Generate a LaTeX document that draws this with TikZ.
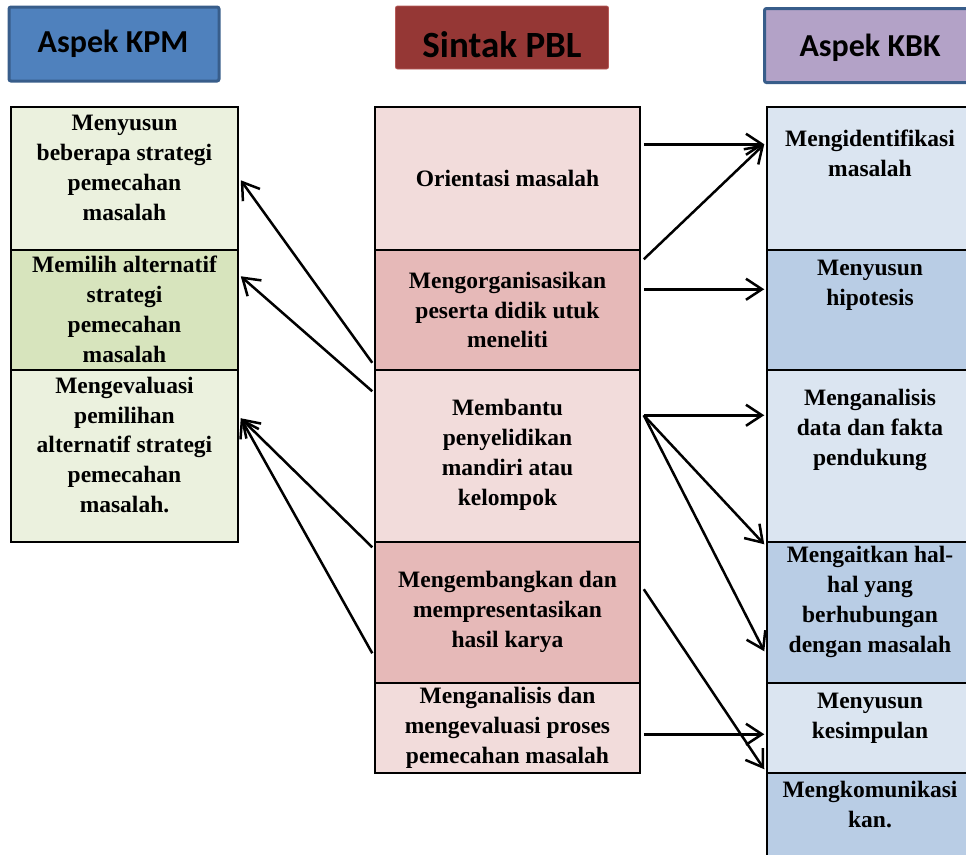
\documentclass[tikz,border=0pt]{standalone}
\usepackage{fontspec}
\setmainfont{Liberation Serif}
\newfontfamily\headfont{Carlito}
\usetikzlibrary{arrows.meta,calc}
\definecolor{kpmfill}{HTML}{4F81BD}
\definecolor{kpmdraw}{HTML}{385D8A}
\definecolor{pblfill}{HTML}{953735}
\definecolor{pbldraw}{HTML}{B65A58}
\definecolor{kbkfill}{HTML}{B3A2C7}
\definecolor{greenA}{HTML}{EBF1DE}
\definecolor{greenB}{HTML}{D7E4BD}
\definecolor{redA}{HTML}{F2DCDB}
\definecolor{redB}{HTML}{E6B9B8}
\definecolor{blueA}{HTML}{DBE5F1}
\definecolor{blueB}{HTML}{B9CDE5}
\begin{document}
\begin{tikzpicture}[x=1pt,y=-1pt,
  header/.style={rounded corners=2pt, line width=3pt, inner sep=0pt},
  headtext/.style={inner sep=0pt, font=\headfont\bfseries\fontsize{32}{34}\selectfont},
  cell/.style={draw=black, line width=1.5pt, inner sep=0pt},
  celltext/.style={align=center, inner sep=0pt,
    font=\bfseries\fontsize{23.5}{29.8}\selectfont},
  arr/.style={-{Straight Barb[length=16pt,width=21pt]}, line width=2.5pt}
]
\path[use as bounding box] (0,0) rectangle (966,854);
\clip (0,0) rectangle (966,854);

% headers
\node[header, draw=kpmdraw, fill=kpmfill, minimum width=210, minimum height=74] (hkpm) at (114,44) {};
\node[header, draw=pbldraw, fill=pblfill, line width=0.8pt, minimum width=213, minimum height=63] (hpbl) at (502,37.5) {};
\node[header, draw=kpmdraw, fill=kbkfill, minimum width=215, minimum height=74] (hkbk) at (872,45.5) {};
\node[headtext] (hkpmt) at (113,44) {Aspek KPM};
\node[headtext, font=\headfont\bfseries\fontsize{37}{40}\selectfont] (hpblt) at (502,45) {Sintak PBL};
\node[headtext] (hkbkt) at (870,48) {Aspek KBK};

% left column
\node[cell, fill=greenA, minimum width=227, minimum height=143] (l1) at (124.5,178.5) {};
\node[cell, fill=greenB, minimum width=227, minimum height=120] (l2) at (124.5,310) {};
\node[cell, fill=greenA, minimum width=227, minimum height=172] (l3) at (124.5,456) {};
\node[celltext] (l1t) at (124.5,168) {Menyusun\\beberapa strategi\\pemecahan\\masalah};
\node[celltext] (l2t) at (124.5,309.5) {Memilih alternatif\\strategi\\pemecahan\\masalah};
\node[celltext] (l3t) at (124.5,445) {Mengevaluasi\\pemilihan\\alternatif strategi\\pemecahan\\masalah.};

% center column
\node[cell, fill=redA, minimum width=265, minimum height=143] (c1) at (507.5,178.5) {};
\node[cell, fill=redB, minimum width=265, minimum height=120] (c2) at (507.5,310) {};
\node[cell, fill=redA, minimum width=265, minimum height=172] (c3) at (507.5,456) {};
\node[cell, fill=redB, minimum width=265, minimum height=141] (c4) at (507.5,612.5) {};
\node[cell, fill=redA, minimum width=265, minimum height=90] (c5) at (507.5,728) {};
\node[celltext] (c1t) at (507.5,178) {Orientasi masalah};
\node[celltext] (c2t) at (507.5,310) {Mengorganisasikan\\peserta didik utuk\\meneliti};
\node[celltext] (c3t) at (507.5,455) {Membantu\\penyelidikan\\mandiri atau\\kelompok};
\node[celltext] (c4t) at (507.5,612) {Mengembangkan dan\\mempresentasikan\\hasil karya};
\node[celltext] (c5t) at (507.5,728) {Menganalisis dan\\mengevaluasi proses\\pemecahan masalah};

% right column
\node[cell, fill=blueA, minimum width=208, minimum height=143] (r1) at (871,178.5) {};
\node[cell, fill=blueB, minimum width=208, minimum height=120] (r2) at (871,310) {};
\node[cell, fill=blueA, minimum width=208, minimum height=172] (r3) at (871,456) {};
\node[cell, fill=blueB, minimum width=208, minimum height=141] (r4) at (871,612.5) {};
\node[cell, fill=blueA, minimum width=208, minimum height=90] (r5) at (871,728) {};
\node[cell, fill=blueB, minimum width=208, minimum height=92] (r6) at (871,819) {};
\node[celltext] (r1t) at (870,153) {Mengidentifikasi\\masalah};
\node[celltext] (r2t) at (870,285) {Menyusun\\hipotesis};
\node[celltext] (r3t) at (870,430) {Menganalisis\\data dan fakta\\pendukung};
\node[celltext] (r4t) at (870,602) {Mengaitkan hal-\\hal yang\\berhubungan\\dengan masalah};
\node[celltext] (r5t) at (870,718) {Menyusun\\kesimpulan};
\node[celltext] (r6t) at (870,804.5) {Mengkomunikasi\\kan.};

% arrows to the left
\draw[arr] ($(c2.south west)+(-2,-8)$) -- ($(l1.north east)+(2,74)$);
\draw[arr] ($(c3.north west)+(-2,22)$) -- ($(l2.north east)+(2,27)$);
\draw[arr] ($(c4.north west)+(-2,6)$) -- ($(l3.north east)+(2,49)$);
\draw[arr] ($(c4.north west)+(-2,112)$) -- ($(l3.north east)+(2,49)$);

% arrows to the right
\draw[arr] ($(c1.north east)+(3,38)$) -- ($(r1.north west)+(-2,38)$);
\draw[arr] ($(c2.north east)+(3,10)$) -- ($(r1.north west)+(-2,38)$);
\draw[arr] ($(c2.north east)+(3,40)$) -- ($(r2.north west)+(-2,40)$);
\draw[arr] ($(c3.north east)+(3,46)$) -- ($(r3.north west)+(-2,46)$);
\draw[arr] ($(c3.north east)+(3,46)$) -- ($(r4.north west)+(-2,3)$);
\draw[arr] ($(c3.north east)+(3,46)$) -- ($(r4.north west)+(-2,110)$);
\draw[arr] ($(c4.north east)+(3,48)$) -- ($(r6.north west)+(-2,-3)$);
\draw[arr] ($(c5.north east)+(3,52)$) -- ($(r5.north west)+(-2,52)$);
\end{tikzpicture}
\end{document}
